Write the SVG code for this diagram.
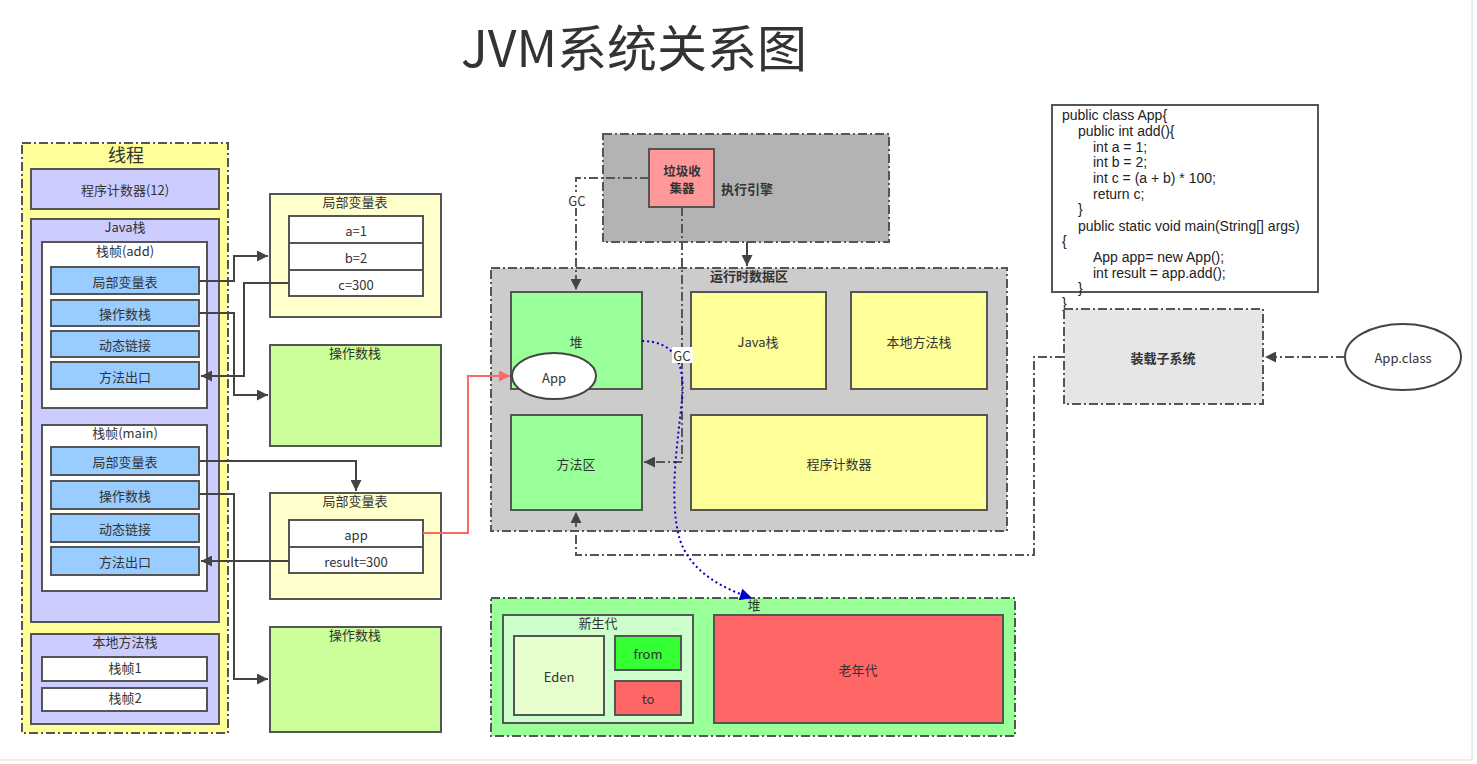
<svg xmlns="http://www.w3.org/2000/svg" width="1477" height="764" viewBox="0 0 1477 764">
<style>
text{font-family:"Noto Sans CJK SC","Liberation Sans",sans-serif;fill:#333;font-size:13px;}
.c{text-anchor:middle;dominant-baseline:central;}
.t{text-anchor:middle;}
.b{font-weight:bold;}
.box{stroke:#555;stroke-width:2;}
.dd{stroke:#555;stroke-width:2;stroke-dasharray:9 3 2 3;}
.ln{fill:none;stroke:#444;stroke-width:2;}
.ldd{fill:none;stroke:#555;stroke-width:2;stroke-dasharray:9 3 2 3;}
.code{font-family:"Liberation Sans",sans-serif;font-size:14px;fill:#222;}
</style>
<defs>
<marker id="ar" viewBox="0 0 10 10" refX="10" refY="5" markerWidth="12" markerHeight="11" markerUnits="userSpaceOnUse" orient="auto"><path d="M0,0 L10,5 L0,10 z" fill="#444"/></marker>
<marker id="arr" viewBox="0 0 10 10" refX="10" refY="5" markerWidth="12" markerHeight="11" markerUnits="userSpaceOnUse" orient="auto"><path d="M0,0 L10,5 L0,10 z" fill="#FF6666"/></marker>
<marker id="arb" viewBox="0 0 10 10" refX="10" refY="5" markerWidth="13" markerHeight="12" markerUnits="userSpaceOnUse" orient="auto"><path d="M0,0 L10,5 L0,10 z" fill="#0000CC"/></marker>
</defs>
<rect x="0" y="0" width="1477" height="764" fill="#fff"/>
<path d="M1472,0 V760 H0" fill="none" stroke="#ddd" stroke-width="1"/>
<text x="634" y="67" class="t" style="font-size:50px">JVM系统关系图</text>

<g id="thread">
<rect x="22" y="143" width="206" height="590" fill="#FFFF99" class="dd"/>
<text x="126" y="162" class="t" style="font-size:18px">线程</text>
</g>
<g id="pc12"><rect x="31" y="169" width="188" height="40" fill="#CCCCFF" class="box"/><text x="125" y="189" class="c">程序计数器(12)</text></g>
<g id="javastack"><rect x="31" y="219" width="188" height="403" fill="#CCCCFF" class="box"/><text x="125" y="232" class="t">Java栈</text></g>
<g id="frame-add"><rect x="42" y="242" width="165" height="166" fill="#fff" class="box"/><text x="125" y="256" class="t">栈帧(add)</text></g>
<g id="add-lvt"><rect x="51" y="267" width="148" height="27" fill="#99CCFF" class="box"/><text x="125" y="281" class="c">局部变量表</text></g>
<g id="add-ops"><rect x="51" y="300" width="148" height="26" fill="#99CCFF" class="box"/><text x="125" y="313" class="c">操作数栈</text></g>
<g id="add-dyn"><rect x="51" y="331" width="148" height="26" fill="#99CCFF" class="box"/><text x="125" y="344" class="c">动态链接</text></g>
<g id="add-ret"><rect x="51" y="362" width="148" height="27" fill="#99CCFF" class="box"/><text x="125" y="376" class="c">方法出口</text></g>
<g id="frame-main"><rect x="42" y="425" width="165" height="166" fill="#fff" class="box"/><text x="125" y="438" class="t">栈帧(main)</text></g>
<g id="main-lvt"><rect x="51" y="447" width="148" height="28" fill="#99CCFF" class="box"/><text x="125" y="461" class="c">局部变量表</text></g>
<g id="main-ops"><rect x="51" y="481" width="148" height="28" fill="#99CCFF" class="box"/><text x="125" y="495" class="c">操作数栈</text></g>
<g id="main-dyn"><rect x="51" y="514" width="148" height="28" fill="#99CCFF" class="box"/><text x="125" y="528" class="c">动态链接</text></g>
<g id="main-ret"><rect x="51" y="547" width="148" height="28" fill="#99CCFF" class="box"/><text x="125" y="561" class="c">方法出口</text></g>
<g id="native-stack"><rect x="31" y="634" width="188" height="90" fill="#CCCCFF" class="box"/><text x="125" y="647" class="t">本地方法栈</text></g>
<g id="nframe1"><rect x="42" y="657" width="165" height="24" fill="#fff" class="box"/><text x="125" y="667" class="c">栈帧1</text></g>
<g id="nframe2"><rect x="42" y="688" width="165" height="23" fill="#fff" class="box"/><text x="125" y="697" class="c">栈帧2</text></g>

<g id="lvt-add"><rect x="270" y="194" width="171" height="123" fill="#FFFFCC" class="box"/><text x="355" y="207" class="t">局部变量表</text></g>
<g id="var-a"><rect x="289" y="216" width="134" height="27" fill="#fff" class="box"/><text x="356" y="230" class="c">a=1</text></g>
<g id="var-b"><rect x="289" y="243" width="134" height="27" fill="#fff" class="box"/><text x="356" y="257" class="c">b=2</text></g>
<g id="var-c"><rect x="289" y="270" width="134" height="26" fill="#fff" class="box"/><text x="356" y="284" class="c">c=300</text></g>
<g id="ops-add"><rect x="270" y="345" width="171" height="101" fill="#CCFF99" class="box"/><text x="355" y="358" class="t">操作数栈</text></g>
<g id="lvt-main"><rect x="270" y="493" width="171" height="106" fill="#FFFFCC" class="box"/><text x="355" y="506" class="t">局部变量表</text></g>
<g id="var-app"><rect x="289" y="520" width="134" height="27" fill="#fff" class="box"/><text x="356" y="534" class="c">app</text></g>
<g id="var-result"><rect x="289" y="547" width="134" height="26" fill="#fff" class="box"/><text x="356" y="561" class="c">result=300</text></g>
<g id="ops-main"><rect x="270" y="627" width="171" height="105" fill="#CCFF99" class="box"/><text x="355" y="640" class="t">操作数栈</text></g>

<g id="exec-engine"><rect x="603" y="134" width="286" height="108" fill="#B3B3B3" class="dd"/><text x="747" y="188" class="c b">执行引擎</text></g>
<g id="gc"><rect x="649" y="149" width="65" height="58" fill="#FF9999" class="box"/><text x="682" y="170" class="c b" style="font-size:12.5px">垃圾收</text><text x="682" y="187" class="c b" style="font-size:12.5px">集器</text></g>

<g id="runtime"><rect x="491" y="268" width="516" height="263" fill="#CCCCCC" class="dd"/><text x="749" y="281" class="t b">运行时数据区</text></g>
<g id="heap"><rect x="511" y="292" width="131" height="97" fill="#99FF99" class="box"/><text x="576" y="341" class="c">堆</text></g>
<g id="method-area"><rect x="511" y="415" width="131" height="95" fill="#99FF99" class="box"/><text x="576" y="463" class="c">方法区</text></g>
<g id="rt-javastack"><rect x="691" y="292" width="135" height="97" fill="#FFFF99" class="box"/><text x="758" y="341" class="c">Java栈</text></g>
<g id="rt-native"><rect x="851" y="292" width="136" height="97" fill="#FFFF99" class="box"/><text x="919" y="341" class="c">本地方法栈</text></g>
<g id="rt-pc"><rect x="691" y="415" width="296" height="95" fill="#FFFF99" class="box"/><text x="839" y="463" class="c">程序计数器</text></g>

<g id="code">
<rect x="1052" y="105" width="266" height="187" fill="#fff" stroke="#555" stroke-width="2"/>
<text class="code" x="1062" y="120">public class App{</text>
<text class="code" x="1078" y="136">public int add(){</text>
<text class="code" x="1093" y="152">int a = 1;</text>
<text class="code" x="1093" y="167">int b = 2;</text>
<text class="code" x="1093" y="183">int c = (a + b) * 100;</text>
<text class="code" x="1093" y="199">return c;</text>
<text class="code" x="1078" y="214">}</text>
<text class="code" x="1078" y="231">public static void main(String[] args)</text>
<text class="code" x="1062" y="246">{</text>
<text class="code" x="1093" y="262">App app= new App();</text>
<text class="code" x="1093" y="278">int result = app.add();</text>
<text class="code" x="1078" y="293">}</text>
<text class="code" x="1062" y="308">}</text>
</g>
<g id="loader"><rect x="1064" y="309" width="199" height="95" fill="#E6E6E6" class="dd"/><text x="1163" y="357" class="c b">装载子系统</text></g>
<g id="appclass"><ellipse cx="1403" cy="357" rx="58" ry="33" fill="#fff" stroke="#444" stroke-width="2"/><text x="1403" y="357" class="c">App.class</text></g>

<g id="heap2"><rect x="491" y="598" width="524" height="138" fill="#99FF99" class="dd"/><text x="754" y="610" class="t">堆</text></g>
<g id="young"><rect x="503" y="615" width="190" height="108" fill="#CCFFCC" class="box"/><text x="598" y="628" class="t">新生代</text></g>
<g id="eden"><rect x="514" y="636" width="90" height="79" fill="#E6FFCC" class="box"/><text x="559" y="676" class="c">Eden</text></g>
<g id="from"><rect x="615" y="636" width="66" height="34" fill="#33FF33" class="box"/><text x="648" y="653" class="c">from</text></g>
<g id="to"><rect x="615" y="681" width="66" height="34" fill="#FF6666" class="box"/><text x="648" y="698" class="c">to</text></g>
<g id="old"><rect x="714" y="615" width="289" height="108" fill="#FF6666" class="box"/><text x="858" y="669" class="c">老年代</text></g>

<g id="connectors">
<path class="ln" d="M199,281 H234 V256 H268" marker-end="url(#ar)"/>
<path class="ln" d="M289,283 H244 V376 H201" marker-end="url(#ar)"/>
<path class="ln" d="M199,313 H234 V395 H268" marker-end="url(#ar)"/>
<path class="ln" d="M199,461 H356 V491" marker-end="url(#ar)"/>
<path class="ln" d="M199,494 H234 V679 H268" marker-end="url(#ar)"/>
<path class="ln" d="M289,561 H201" marker-end="url(#ar)"/>
<path d="M423,533 H468 V376 H510" fill="none" stroke="#FF6666" stroke-width="2" marker-end="url(#arr)"/>
<path class="ln" d="M747,242 V266" marker-end="url(#ar)"/>
<path class="ldd" d="M649,178 H576 V290" marker-end="url(#ar)"/>
<path class="ldd" d="M682,207 V462 H644" marker-end="url(#ar)"/>
<path class="ldd" d="M1345,357 H1265" marker-end="url(#ar)"/>
<path class="ldd" d="M1064,357 H1034 V555 H576 V512" marker-end="url(#ar)"/>
<path d="M642,341 C672,341 686,360 682,400 C678,440 668,500 680,540 C690,570 720,588 752,598" fill="none" stroke="#0000CC" stroke-width="2" stroke-dasharray="2 3" marker-end="url(#arb)"/>
<rect x="563" y="192" width="28" height="16" fill="#fff"/>
<text x="577" y="200" class="c">GC</text>
<rect x="672" y="347" width="21" height="16" fill="#fff"/>
<text x="682" y="355" class="c">GC</text>
</g>
<g id="app-obj"><ellipse cx="554" cy="376" rx="42" ry="23" fill="#fff" stroke="#444" stroke-width="2"/><text x="554" y="377" class="c">App</text></g>
</svg>
